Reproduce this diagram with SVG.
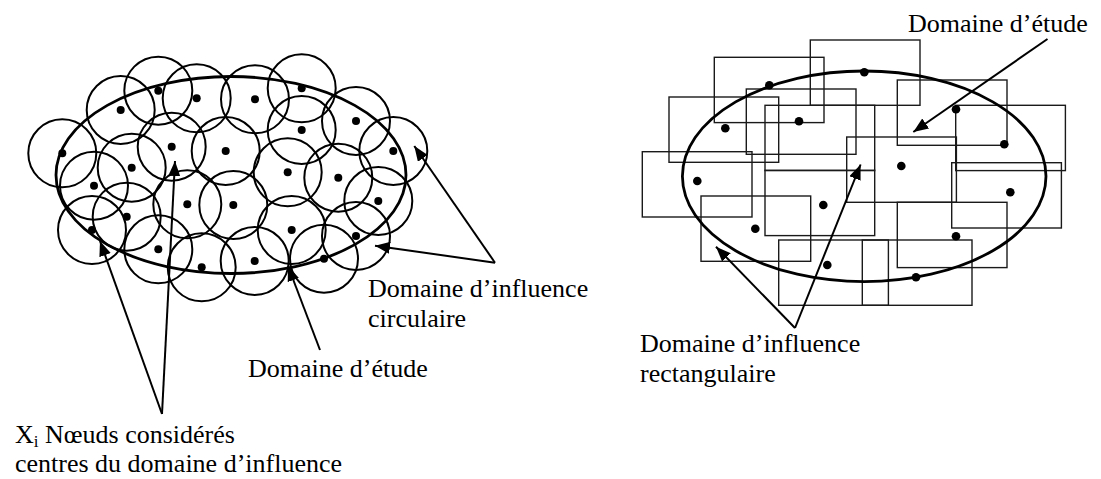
<svg xmlns="http://www.w3.org/2000/svg" width="1101" height="479" viewBox="0 0 1101 479">
  <style>
    .c { fill: none; stroke: #000; stroke-width: 2; }
    .ell { fill: none; stroke: #000; stroke-width: 2.8; }
    .r { fill: none; stroke: #1a1a1a; stroke-width: 1.4; }
    .d { fill: #000; }
    .a { fill: none; stroke: #000; stroke-width: 2; marker-end: url(#head); }
    .t { font-family: "Liberation Serif", "Times New Roman", serif; font-size: 26px; fill: #000; }
  </style>
  <defs>
    <marker id="head" markerUnits="userSpaceOnUse" markerWidth="18" markerHeight="14" refX="15" refY="6" orient="auto">
      <path d="M0,0 L15,6 L0,12 z" fill="#000"/>
    </marker>
  </defs>

  <!-- Left: circular influence domains around each node -->
  <g id="circular-domains">
    <g class="c">
      <circle cx="62.3" cy="153.3" r="34"/>
      <circle cx="120.7" cy="110" r="34"/>
      <circle cx="158.3" cy="90.7" r="34"/>
      <circle cx="196.7" cy="98.3" r="34"/>
      <circle cx="255" cy="99.3" r="34"/>
      <circle cx="301.7" cy="88.3" r="34"/>
      <circle cx="301.7" cy="130" r="34"/>
      <circle cx="356" cy="121" r="34"/>
      <circle cx="393.3" cy="151" r="34"/>
      <circle cx="171.7" cy="146.7" r="34"/>
      <circle cx="225.7" cy="151" r="34"/>
      <circle cx="287.7" cy="172.3" r="34"/>
      <circle cx="338.3" cy="177.7" r="34"/>
      <circle cx="131.7" cy="167.7" r="34"/>
      <circle cx="94" cy="185.7" r="34"/>
      <circle cx="126.7" cy="216.7" r="34"/>
      <circle cx="187.3" cy="204.3" r="34"/>
      <circle cx="233.3" cy="205" r="34"/>
      <circle cx="378.3" cy="201" r="34"/>
      <circle cx="92" cy="230" r="34"/>
      <circle cx="158.3" cy="249.3" r="34"/>
      <circle cx="201.7" cy="267.3" r="34"/>
      <circle cx="254.7" cy="261" r="34"/>
      <circle cx="291.7" cy="230" r="34"/>
      <circle cx="356" cy="236" r="34"/>
      <circle cx="324" cy="258.7" r="34"/>
    </g>
    <ellipse class="ell" cx="231" cy="175" rx="175" ry="98.5"/>
    <g class="d">
      <circle cx="62.3" cy="153.3" r="4"/>
      <circle cx="120.7" cy="110" r="4"/>
      <circle cx="158.3" cy="90.7" r="4"/>
      <circle cx="196.7" cy="98.3" r="4"/>
      <circle cx="255" cy="99.3" r="4"/>
      <circle cx="301.7" cy="88.3" r="4"/>
      <circle cx="301.7" cy="130" r="4"/>
      <circle cx="356" cy="121" r="4"/>
      <circle cx="393.3" cy="151" r="4"/>
      <circle cx="171.7" cy="146.7" r="4"/>
      <circle cx="225.7" cy="151" r="4"/>
      <circle cx="287.7" cy="172.3" r="4"/>
      <circle cx="338.3" cy="177.7" r="4"/>
      <circle cx="131.7" cy="167.7" r="4"/>
      <circle cx="94" cy="185.7" r="4"/>
      <circle cx="126.7" cy="216.7" r="4"/>
      <circle cx="187.3" cy="204.3" r="4"/>
      <circle cx="233.3" cy="205" r="4"/>
      <circle cx="378.3" cy="201" r="4"/>
      <circle cx="92" cy="230" r="4"/>
      <circle cx="158.3" cy="249.3" r="4"/>
      <circle cx="201.7" cy="267.3" r="4"/>
      <circle cx="254.7" cy="261" r="4"/>
      <circle cx="291.7" cy="230" r="4"/>
      <circle cx="356" cy="236" r="4"/>
      <circle cx="324" cy="258.7" r="4"/>
    </g>
  </g>

  <!-- Right: rectangular influence domains -->
  <g id="rectangular-domains">
    <g class="r">
      <rect x="714.3" y="57.3" width="109.7" height="65.3"/>
      <rect x="810.3" y="40" width="109.7" height="65.3"/>
      <rect x="669" y="97" width="109.7" height="65.3"/>
      <rect x="746.3" y="89" width="109.7" height="65.3"/>
      <rect x="765" y="105.3" width="109.7" height="65.3"/>
      <rect x="765" y="170.3" width="109.7" height="65.3"/>
      <rect x="642.3" y="151.7" width="109.7" height="65.3"/>
      <rect x="701" y="196" width="109.7" height="65.3"/>
      <rect x="846.7" y="137" width="109.7" height="65.3"/>
      <rect x="897.3" y="80" width="109.7" height="65.3"/>
      <rect x="955.7" y="105.3" width="109.7" height="65.3"/>
      <rect x="951.7" y="162.7" width="109.7" height="65.3"/>
      <rect x="897.3" y="202.3" width="109.7" height="65.3"/>
      <rect x="778.7" y="240" width="109.7" height="65.3"/>
      <rect x="862.3" y="240" width="109.7" height="65.3"/>
    </g>
    <ellipse class="ell" cx="864.2" cy="176.3" rx="181.8" ry="105.3"/>
    <g class="d">
      <circle cx="769.3" cy="85.3" r="4.3"/>
      <circle cx="864.3" cy="72.3" r="4.3"/>
      <circle cx="725.3" cy="128.3" r="4.3"/>
      <circle cx="799" cy="121.3" r="4.3"/>
      <circle cx="956" cy="109.3" r="4.3"/>
      <circle cx="1004.3" cy="144.3" r="4.3"/>
      <circle cx="901.3" cy="166" r="4.3"/>
      <circle cx="697.3" cy="181" r="4.3"/>
      <circle cx="1010.3" cy="192.3" r="4.3"/>
      <circle cx="823.3" cy="205" r="4.3"/>
      <circle cx="755.3" cy="228.7" r="4.3"/>
      <circle cx="956" cy="236.3" r="4.3"/>
      <circle cx="827.3" cy="265" r="4.3"/>
      <circle cx="916" cy="277.3" r="4.3"/>
    </g>
  </g>

  <!-- Leader arrows -->
  <g id="connectors">
    <line class="a" x1="162" y1="414" x2="100" y2="241"/>
    <line class="a" x1="162" y1="414" x2="175" y2="161"/>
    <line class="a" x1="320" y1="350" x2="288" y2="266"/>
    <line class="a" x1="495" y1="262.7" x2="375" y2="245.7"/>
    <line class="a" x1="495" y1="262.7" x2="414.3" y2="146"/>
    <line class="a" x1="1047.5" y1="39" x2="913.3" y2="132"/>
    <line class="a" x1="795" y1="328" x2="716" y2="246.7"/>
    <line class="a" x1="795" y1="328" x2="860.6" y2="164.5"/>
  </g>

  <!-- Labels -->
  <g id="label-circ">
    <text class="t" x="368" y="297">Domaine d’influence</text>
    <text class="t" x="368" y="327">circulaire</text>
  </g>
  <g id="label-study-left">
    <text class="t" x="248" y="377">Domaine d’étude</text>
  </g>
  <g id="label-nodes">
    <text class="t" x="15" y="443">X<tspan font-size="17" dy="4">i</tspan><tspan dy="-4"> Nœuds considérés</tspan></text>
    <text class="t" x="15" y="472">centres du domaine d’influence</text>
  </g>
  <g id="label-study-right">
    <text class="t" x="908" y="32">Domaine d’étude</text>
  </g>
  <g id="label-rect">
    <text class="t" x="640" y="352">Domaine d’influence</text>
    <text class="t" x="640" y="382">rectangulaire</text>
  </g>
</svg>
